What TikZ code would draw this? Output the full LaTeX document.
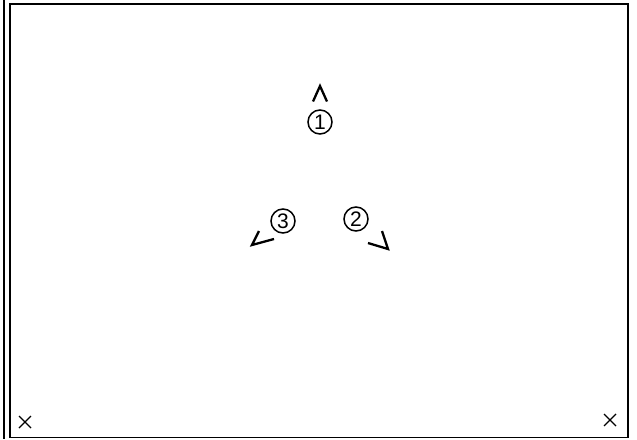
\documentclass[tikz,border=0pt]{standalone}
\usepackage{fontspec}
\setmainfont{Liberation Sans}
\begin{document}
\begin{tikzpicture}[
    x=1pt, y=-1pt,
    frame/.style={draw=black, line width=1.8pt},
    num/.style={circle, draw=black, line width=1.5pt, minimum size=24pt,
        inner sep=0pt, font=\fontsize{21}{21}\selectfont},
    chev/.style={draw=black, line width=2.3pt, line cap=butt, line join=miter},
    crossline/.style={draw=black, line width=1.3pt}
]
\useasboundingbox (0,0) rectangle (637,439);

% frame
\draw[frame] (4.3,0) -- (4.3,439);
\draw[frame] (10.3,4.3) rectangle (628,437.5);

% numbered labels
\node[num] (one) at (320,122) {1};
\node[num] (two) at (356,219) {2};
\node[num] (three) at (283,221) {3};

% arrow heads
\coordinate (tip1) at (320,86);
\coordinate (tip2) at (388,249);
\coordinate (tip3) at (252,245);
\draw[chev] ([shift={(-7,15.5)}]tip1) -- (tip1) -- ([shift={(7,15.5)}]tip1);
\draw[chev] ([shift={(-6,-18)}]tip2) -- (tip2) -- ([shift={(-20,-6)}]tip2);
\draw[chev] ([shift={(7,-14)}]tip3) -- (tip3) -- ([shift={(22,-6)}]tip3);

% corner marks
\coordinate (cl) at (25,422);
\coordinate (cr) at (610,420);
\foreach \c in {cl,cr}{
  \draw[crossline] ([shift={(-6,-6)}]\c) -- ([shift={(6,6)}]\c);
  \draw[crossline] ([shift={(-6,6)}]\c) -- ([shift={(6,-6)}]\c);
}
\end{tikzpicture}
\end{document}
